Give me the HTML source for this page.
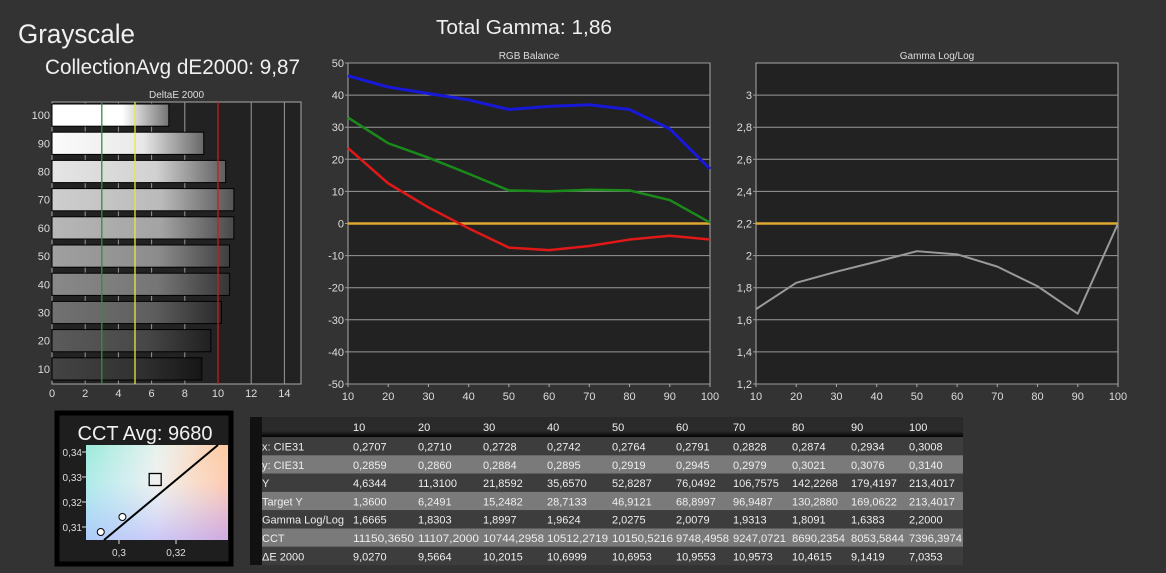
<!DOCTYPE html>
<html><head><meta charset="utf-8"><style>
body{margin:0;background:#333;width:1166px;height:573px;overflow:hidden;font-family:"Liberation Sans",sans-serif;color:#eee}
svg{position:absolute;left:0;top:0}
</style></head><body>
<svg id="s" width="1166" height="573" xmlns="http://www.w3.org/2000/svg" font-family="Liberation Sans, sans-serif">
<defs>
<linearGradient id="cx" x1="0" y1="0" x2="1" y2="0"><stop offset="0" stop-color="#a8e6f0"/><stop offset="0.5" stop-color="#f0f0f0"/><stop offset="1" stop-color="#ffc8a0"/></linearGradient>
<linearGradient id="cy" x1="0" y1="0" x2="1" y2="1"><stop offset="0" stop-color="#90f0c0" stop-opacity="0.5"/><stop offset="0.5" stop-color="#fff" stop-opacity="0"/><stop offset="1" stop-color="#ff80c0" stop-opacity="0.7"/></linearGradient>
<linearGradient id="cb" x1="0" y1="0" x2="0" y2="1"><stop offset="0.4" stop-color="#b0c8ff" stop-opacity="0"/><stop offset="1" stop-color="#b0b8ff" stop-opacity="0.6"/></linearGradient>
<linearGradient id="hdr" x1="0" y1="0" x2="0" y2="1"><stop offset="0" stop-color="#2a2a2a"/><stop offset="0.7" stop-color="#2a2a2a"/><stop offset="1" stop-color="#000"/></linearGradient>
</defs>
<text x="18" y="43" font-size="27" fill="#f0f0f0" textLength="117" lengthAdjust="spacingAndGlyphs">Grayscale</text>
<text x="45" y="74" font-size="21" fill="#f0f0f0" textLength="255" lengthAdjust="spacingAndGlyphs">CollectionAvg dE2000: 9,87</text>
<text x="436" y="34" font-size="20" fill="#f0f0f0" textLength="176" lengthAdjust="spacingAndGlyphs">Total Gamma: 1,86</text>
<g id="de"></g>
<g id="rgb"></g>
<g id="gam"></g>
<g>
<rect x="57" y="413" width="174" height="151" fill="#1e1e1e" stroke="#000" stroke-width="5"/>
<text x="145" y="440" font-size="20" fill="#f0f0f0" text-anchor="middle">CCT Avg: 9680</text>
<rect x="86" y="445" width="142" height="95" fill="url(#cx)"/>
<rect x="86" y="445" width="142" height="95" fill="url(#cy)"/>
<rect x="86" y="445" width="142" height="95" fill="url(#cb)"/>
<g id="cct"></g>
</g>
<g id="tbl"></g>
</svg>
<script>
const NS="http://www.w3.org/2000/svg";
function el(p,t,a,txt){const e=document.createElementNS(NS,t);for(const k in a)e.setAttribute(k,a[k]);if(txt!==undefined)e.textContent=txt;p.appendChild(e);return e;}
const levels=[10,20,30,40,50,60,70,80,90,100];
const deltaE=[9.027,9.5664,10.2015,10.6999,10.6953,10.9553,10.9573,10.4615,9.1419,7.0353];
const redBal=[23.5,12.5,5,-1.5,-7.5,-8.3,-7,-5,-3.8,-5];
const greenBal=[33,25,20.5,15.5,10.3,10,10.5,10.3,7.3,0.3];
const blueBal=[46,42.5,40.5,38.5,35.5,36.5,37,35.5,29.5,17];
const gammaVals=[1.6665,1.8303,1.8997,1.9624,2.0275,2.0079,1.9313,1.8091,1.6383,2.2];
const rgbTicks=[50,40,30,20,10,0,-10,-20,-30,-40,-50];
const gammaTicks=[3,2.8,2.6,2.4,2.2,2,1.8,1.6,1.4,1.2];
const deTicks=[0,2,4,6,8,10,12,14];
const cieX=[0.2936,0.3012];
const cieY=[0.3080,0.3140];
const tgtX=[0.3127],tgtY=[0.3290];
const fmt=v=>String(v).replace('.',',');

// DeltaE
(function(){const g=document.getElementById('de');
const L=52,R=301,T=102,B=384,xs=v=>L+v*(R-L)/15;
el(g,'rect',{x:L,y:T,width:R-L,height:B-T,fill:'#222',stroke:'#aaa'});
el(g,'text',{x:(L+R)/2,y:98,'font-size':10,fill:'#ddd','text-anchor':'middle'},'DeltaE 2000');
deTicks.forEach(t=>{if(t>0)el(g,'line',{x1:xs(t),x2:xs(t),y1:T,y2:B,stroke:'#999'});
const tx=el(g,'text',{x:xs(t),y:B+13,'font-size':11,fill:'#ddd','text-anchor':'middle'},t);

});
const ph=(B-T)/levels.length;
for(let i=0;i<levels.length;i++){const lv=levels[levels.length-1-i];const v=deltaE[levels.length-1-i];
const y=T+i*ph+2,h=ph-6;const gid='bg'+lv;const c=Math.round(25+lv*2.3);
const lg=el(g,'linearGradient',{id:gid,x1:0,y1:0,x2:1,y2:0});
el(lg,'stop',{offset:0,'stop-color':`rgb(${Math.min(255,c+20)},${Math.min(255,c+20)},${Math.min(255,c+20)})`});
el(lg,'stop',{offset:0.6,'stop-color':`rgb(${c},${c},${c})`});
el(lg,'stop',{offset:1,'stop-color':`rgb(${Math.round(c*0.45)},${Math.round(c*0.45)},${Math.round(c*0.45)})`});
const r=el(g,'rect',{x:L,y:y,width:xs(v)-L,height:h,fill:`url(#${gid})`,stroke:'#000'});


const lb=el(g,'text',{x:L-2,y:y+h/2+4,'font-size':11,fill:'#ddd','text-anchor':'end'},lv);

}
[[3,'#3a8a3a'],[5,'#e8e840'],[10,'#c02020']].forEach(([v,c])=>el(g,'line',{x1:xs(v),x2:xs(v),y1:T,y2:B,stroke:c,'stroke-width':1.3}));
})();

function lineChart(id,L,R,T,B,ymin,ymax,ticks,title,series,ref){const g=document.getElementById(id);
const xs=v=>L+(v-10)*(R-L)/90,ys=v=>B-(v-ymin)*(B-T)/(ymax-ymin);
el(g,'rect',{x:L,y:T,width:R-L,height:B-T,fill:'#222',stroke:'#aaa'});
el(g,'text',{x:(L+R)/2,y:59,'font-size':10,fill:'#ddd','text-anchor':'middle'},title);
ticks.forEach(t=>{el(g,'line',{x1:L-3,x2:R,y1:ys(t),y2:ys(t),stroke:'#999'});
const tx=el(g,'text',{x:L-4,y:ys(t)+4,'font-size':11,fill:'#ddd','text-anchor':'end'},fmt(t));

});
levels.forEach(l=>{el(g,'line',{x1:xs(l),x2:xs(l),y1:B,y2:B+3,stroke:'#aaa'});
const tx=el(g,'text',{x:xs(l),y:B+16,'font-size':11,fill:'#ddd','text-anchor':'middle'},l);

});
const rl=el(g,'line',{x1:L,x2:R,y1:ys(ref),y2:ys(ref),stroke:'#e0a830','stroke-width':2.5});


series.forEach(([d,c,w,n])=>{const p=el(g,'polyline',{points:d.map((v,i)=>xs(levels[i])+','+ys(v)).join(' '),fill:'none',stroke:c,'stroke-width':w,'stroke-linejoin':'round'});

});}
lineChart('rgb',348,710,63,384,-50,50,rgbTicks,'RGB Balance',[[greenBal,'#1a8a1a',2.5,'green-line'],[redBal,'#e01818',2.5,'red-line'],[blueBal,'#1818d8',3,'blue-line']],0);
lineChart('gam',756,1118,63,384,1.2,3.2,gammaTicks,'Gamma Log/Log',[[gammaVals,'#9a9a9a',2,'gamma-line']],2.2);

// CCT
(function(){const g=document.getElementById('cct');
const xs=v=>119+(v-0.3)*(176-119)/0.02,ys=v=>502-(v-0.32)*(502-477)/0.01;
[0.34,0.33,0.32,0.31].forEach(t=>{el(g,'text',{x:82,y:ys(t)+4,'font-size':10,fill:'#ddd','text-anchor':'end'},fmt(t));el(g,'line',{x1:82,x2:86,y1:ys(t),y2:ys(t),stroke:'#ddd'});});
[0.3,0.32].forEach(t=>{el(g,'text',{x:xs(t),y:556,'font-size':10,fill:'#ddd','text-anchor':'middle'},fmt(t));el(g,'line',{x1:xs(t),x2:xs(t),y1:540,y2:544,stroke:'#ddd'});});
el(g,'line',{x1:104,y1:540,x2:218,y2:445,stroke:'#000','stroke-width':2});
const t=el(g,'rect',{x:xs(tgtX[0])-6,y:ys(tgtY[0])-6,width:12,height:12,fill:'none',stroke:'#000','stroke-width':1.3});


cieX.forEach((x,i)=>{const c=el(g,'circle',{cx:xs(x),cy:ys(cieY[i]),r:3.5,fill:'#fff',stroke:'#000'});

});})();

// Table
(function(){const g=document.getElementById('tbl');
const rows=[['x: CIE31','0,2707','0,2710','0,2728','0,2742','0,2764','0,2791','0,2828','0,2874','0,2934','0,3008'],
['y: CIE31','0,2859','0,2860','0,2884','0,2895','0,2919','0,2945','0,2979','0,3021','0,3076','0,3140'],
['Y','4,6344','11,3100','21,8592','35,6570','52,8287','76,0492','106,7575','142,2268','179,4197','213,4017'],
['Target Y','1,3600','6,2491','15,2482','28,7133','46,9121','68,8997','96,9487','130,2880','169,0622','213,4017'],
['Gamma Log/Log','1,6665','1,8303','1,8997','1,9624','2,0275','2,0079','1,9313','1,8091','1,6383','2,2000'],
['CCT','11150,3650','11107,2000','10744,2958','10512,2719','10150,5216','9748,4958','9247,0721','8690,2354','8053,5844','7396,3974'],
['ΔE 2000','9,0270','9,5664','10,2015','10,6999','10,6953','10,9553','10,9573','10,4615','9,1419','7,0353']];
const cx=[262,353,418,483,547,612,676,733,792,851,909];
el(g,'rect',{x:250,y:417,width:713,height:20,fill:'url(#hdr)'});
el(g,'rect',{x:250,y:417,width:12,height:148,fill:'#111'});
levels.forEach((l,i)=>el(g,'text',{x:cx[i+1],y:431,'font-size':11,fill:'#eee'},l));
rows.forEach((r,i)=>{const y=437+i*18.3;
const rr=el(g,'rect',{x:262,y:y,width:701,height:18.3,fill:i%2?'#7a7a7a':'#3d3d3d'});


r.forEach((c,j)=>{const a={x:cx[j],y:y+13.5,'font-size':11,fill:'#eee'};
if(c.length>=10&&j>0){a.textLength=61;a.lengthAdjust='spacingAndGlyphs';}
else if(c.length===9&&j>0){a.textLength=53;a.lengthAdjust='spacingAndGlyphs';}
el(g,'text',a,c);});});})();
</script>
</body></html>
